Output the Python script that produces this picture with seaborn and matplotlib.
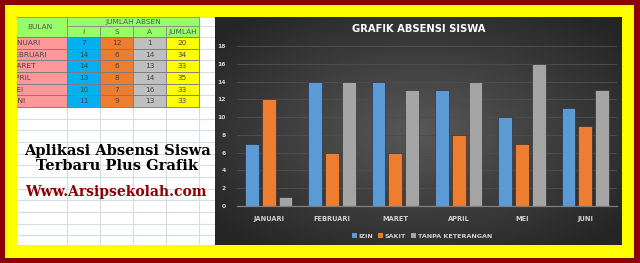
import numpy as np
import pandas as pd
import matplotlib
matplotlib.use("Agg")
import matplotlib.pyplot as plt
from matplotlib.patches import Rectangle, Patch
import seaborn as sns

# ---- data ----
months = ["JANUARI", "FEBRUARI", "MARET", "APRIL", "MEI", "JUNI"]
izin = [7, 14, 14, 13, 10, 11]
sakit = [12, 6, 6, 8, 7, 9]
tanpa = [1, 14, 13, 14, 16, 13]
jumlah = [20, 34, 33, 35, 33, 33]
series_names = ["IZIN", "SAKIT", "TANPA KETERANGAN"]
yticks = [0, 2, 4, 6, 8, 10, 12, 14, 16, 18]
title = "GRAFIK ABSENSI SISWA"
header_top = "JUMLAH ABSEN"
header_cols = ["I", "S", "A", "JUMLAH"]

W, H = 640, 263
sns.set_theme(style="dark")
plt.rcParams['font.family'] = ['DejaVu Sans']
fig = plt.figure(figsize=(W / 100, H / 100), dpi=100)

# ---- background (sheet) axes in pixel coords ----
bg = fig.add_axes([0, 0, 1, 1])
bg.set_xlim(0, W)
bg.set_ylim(H, 0)
bg.axis("off")
bg.add_patch(Rectangle((0, 0), W, H, color="white", zorder=0))

grid_c = "#d6dce6"
colx = [17, 67, 100, 133, 166, 199, 215]
for x in colx[1:-1]:
    bg.plot([x, x], [17, 257], color=grid_c, lw=0.8, zorder=1)
rowy = [17, 26] + [37 + i * 11.67 for i in range(19)]
for y in rowy:
    bg.plot([0, 215], [y, y], color=grid_c, lw=0.8, zorder=1)

line_c = "#8a8a8a"
green = "#99ff66"
# header
bg.add_patch(Rectangle((0, 17), 67, 20, facecolor=green, edgecolor=line_c, lw=0.6, zorder=2))
bg.add_patch(Rectangle((67, 17), 132, 9, facecolor=green, edgecolor=line_c, lw=0.6, zorder=2))
bg.text(40, 27, "BULAN", ha="center", va="center", fontsize=5.3, color="#555555", zorder=3)
bg.text(133, 21.8, header_top, ha="center", va="center", fontsize=5.3, color="#555555", zorder=3)
for j, h in enumerate(header_cols):
    x0 = colx[j + 1]
    bg.add_patch(Rectangle((x0, 26), colx[j + 2] - x0, 11, facecolor=green, edgecolor=line_c, lw=0.6, zorder=2))
    bg.text(x0 + (colx[j + 2] - x0) / 2, 31.8, h, ha="center", va="center", fontsize=5.3, color="#555555", zorder=3)

col_colors = ["#ff9999", "#00b0f0", "#ed7d31", "#bfbfbf", "#ffff00"]
for i, m in enumerate(months):
    y0 = 37 + i * 11.67
    vals = [m, izin[i], sakit[i], tanpa[i], jumlah[i]]
    for j, v in enumerate(vals):
        x0 = colx[j] if j > 0 else 0
        x1 = colx[j + 1]
        bg.add_patch(Rectangle((x0, y0), x1 - x0, 11.67, facecolor=col_colors[j],
                               edgecolor="#7a7a7a", lw=0.6, zorder=2))
        if j == 0:
            bg.text(10.5, y0 + 6, str(v), ha="left", va="center", fontsize=5.3, color="#444444", zorder=3)
        else:
            bg.text((x0 + x1) / 2, y0 + 6, str(v), ha="center", va="center", fontsize=5.3, color="#444444", zorder=3)

# slogan text
bg.text(117, 151, "Aplikasi Absensi Siswa", ha="center", va="center", fontsize=10.5,
        fontweight="bold", family="DejaVu Serif", color="black", zorder=3)
bg.text(117, 166, "Terbaru Plus Grafik", ha="center", va="center", fontsize=10.5,
        fontweight="bold", family="DejaVu Serif", color="black", zorder=3)
bg.text(116, 192, "Www.Arsipsekolah.com", ha="center", va="center", fontsize=10,
        fontweight="bold", family="DejaVu Serif", color="#8b0000", zorder=3)

# ---- chart background with radial gradient ----
cx0, cy0, cx1, cy1 = 215, 17, 622, 245
cbg = fig.add_axes([cx0 / W, 1 - cy1 / H, (cx1 - cx0) / W, (cy1 - cy0) / H])
cbg.axis("off")
gx, gy = np.meshgrid(np.linspace(-1, 1, 300), np.linspace(-1, 1, 200))
r = np.clip(np.sqrt(gx ** 2 + gy ** 2) / 1.3, 0, 1)
c_center = np.array([0x58, 0x58, 0x58]) / 255
c_edge = np.array([0x25, 0x25, 0x25]) / 255
img = c_center[None, None, :] * (1 - r[..., None]) + c_edge[None, None, :] * r[..., None]
cbg.imshow(img, aspect="auto", extent=[0, 1, 0, 1])
cbg.set_xlim(0, 1)
cbg.set_ylim(0, 1)

# ---- bar chart ----
df = pd.DataFrame({
    "bulan": months * 3,
    "jenis": [series_names[0]] * 6 + [series_names[1]] * 6 + [series_names[2]] * 6,
    "nilai": izin + sakit + tanpa,
})
palette = {series_names[0]: "#5b9bd5", series_names[1]: "#ed7d31", series_names[2]: "#a5a5a5"}
ax = fig.add_axes([237 / W, 1 - 206 / H, 380 / W, 160 / H])
ax.set_facecolor("none")
sns.barplot(data=df, x="bulan", y="nilai", hue="jenis", palette=palette, ax=ax,
            width=0.8, gap=0.18, edgecolor="#262626", linewidth=0.4, saturation=1, legend=False)
ax.set_ylim(0, 18)
ax.set_xlim(-0.5, len(months) - 0.5)
ax.set_yticks(yticks)
ax.set_yticklabels([str(t) for t in yticks], fontsize=4.3, fontweight="bold", color="#d0d0d0")
ax.set_xticks(range(len(months)))
ax.set_xticklabels(months, fontsize=4.8, fontweight="bold", color="#d0d0d0")
ax.tick_params(axis="y", length=0, pad=8)
ax.tick_params(axis="x", length=0, pad=7)
ax.set_xlabel("")
ax.set_ylabel("")
ax.grid(axis="y", color="#4d4d4d", lw=0.7)
ax.grid(axis="x", visible=False)
ax.set_axisbelow(True)
for s in ["top", "right", "left"]:
    ax.spines[s].set_visible(False)
ax.spines["bottom"].set_color("#7f7f7f")
ax.spines["bottom"].set_linewidth(0.9)

fig.text(419 / W, 1 - 29 / H, title, ha="center", va="center", fontsize=7.2,
         fontweight="bold", color="white")

handles = [Patch(facecolor=palette[n], edgecolor="none") for n in series_names]
leg = fig.legend(handles, series_names, loc="center", bbox_to_anchor=(422 / W, 1 - 236 / H),
                 ncol=3, frameon=False, fontsize=4.6, handlelength=0.7, handleheight=0.7,
                 handletextpad=0.3, columnspacing=0.8)
for t in leg.get_texts():
    t.set_color("#d0d0d0")
    t.set_fontweight("bold")

# ---- frame overlay ----
fr = fig.add_axes([0, 0, 1, 1], zorder=10)
fr.set_xlim(0, W)
fr.set_ylim(H, 0)
fr.axis("off")
fr.patch.set_visible(False)
red = "#8b0000"
yel = "#ffff00"
for (x, y, w, h) in [(0, 0, W, 5), (0, 258, W, 5), (0, 0, 5, H), (634, 0, 6, H)]:
    fr.add_patch(Rectangle((x, y), w, h, color=red, lw=0))
for (x, y, w, h) in [(5, 5, 629, 12), (5, 245, 629, 13), (5, 5, 12, 253), (622, 5, 12, 253)]:
    fr.add_patch(Rectangle((x, y), w, h, color=yel, lw=0))

fig.savefig("out.png", dpi=100)
